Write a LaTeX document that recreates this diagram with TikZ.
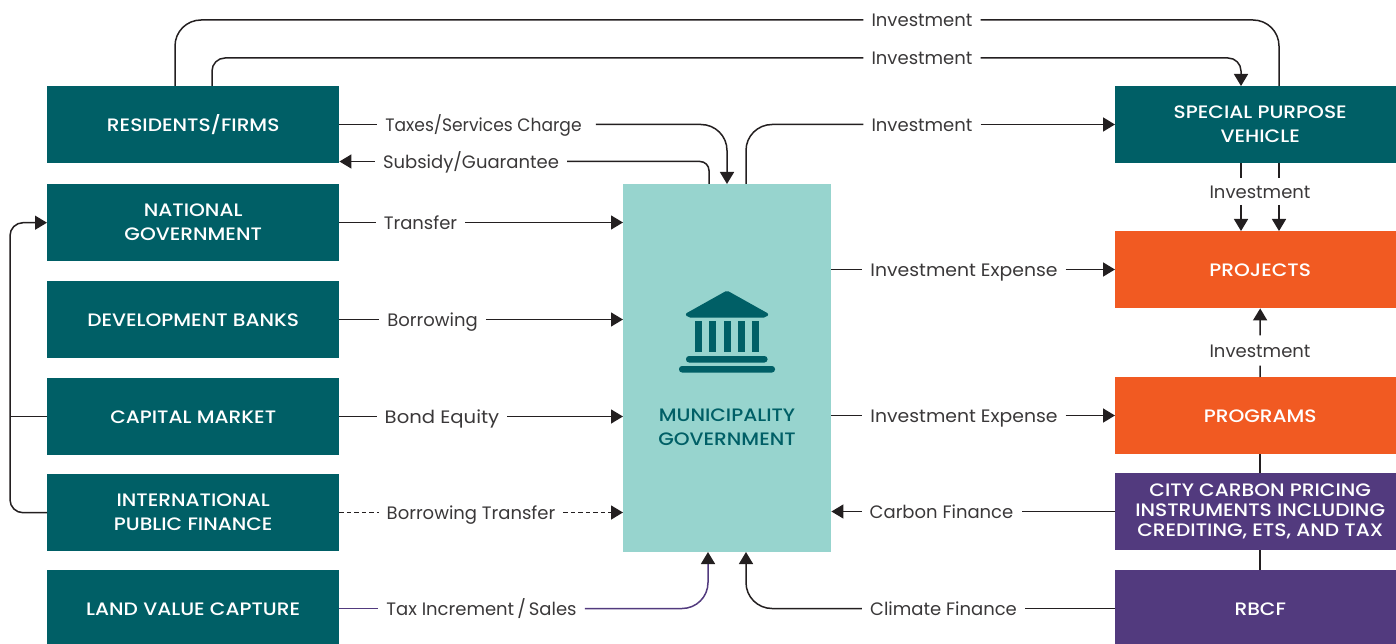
\documentclass[tikz,border=0pt]{standalone}
\usepackage{fontspec}
\setmainfont{Poppins}
\newfontfamily\boxfont[FakeStretch=1.12]{Poppins Medium}
\newfontfamily\labwide[FakeStretch=1.045]{Poppins}
\newfontfamily\labwider[FakeStretch=1.09]{Poppins}
\newfontfamily\labnarrow[FakeStretch=0.95]{Poppins}
\usetikzlibrary{arrows.meta,calc}
\definecolor{teal}{HTML}{005F66}
\definecolor{mint}{HTML}{97D4CE}
\definecolor{orng}{HTML}{F15A22}
\definecolor{purp}{HTML}{523A7E}
\definecolor{ink}{HTML}{231F20}
\definecolor{lbl}{HTML}{3A3839}
\tikzset{
  x=1pt,y=-1pt,
  box/.style={inner sep=0pt,text=white,align=center,font=\boxfont\fontsize{18}{24}\selectfont,anchor=north west,execute at begin node=\rule{0pt}{14pt}},
  tealbox/.style={box,fill=teal,minimum width=292pt,minimum height=77pt},
  rbox/.style={box,minimum width=290pt,minimum height=77pt},
  lab/.style={inner xsep=8pt,inner ysep=0pt,text=lbl,font=\fontsize{18}{20}\selectfont,text height=16pt,text depth=2pt},
  conn/.style={draw=ink,line width=1.5pt},
  tip/.style={-{Triangle[length=12pt,width=14pt,fill=ink,color=ink]}},
  r8/.style={rounded corners=9pt},
  r12/.style={rounded corners=13pt},
  r25/.style={rounded corners=26pt},
  icon/.style={fill=teal,draw=none}
}
\begin{document}
\begin{tikzpicture}
\useasboundingbox (0,0) rectangle (1396,644);
\clip (0,0) rectangle (1396,644);
% boxes
\node[tealbox] (res) at (47,86) {RESIDENTS/FIRMS};
\node[tealbox] (nat) at (47,184) {NATIONAL\\GOVERNMENT};
\node[tealbox] (dev) at (47,281) {DEVELOPMENT BANKS};
\node[tealbox] (cap) at (47,378) {CAPITAL MARKET};
\node[tealbox] (int) at (47,474) {INTERNATIONAL\\PUBLIC FINANCE};
\node[tealbox] (land) at (47,570) {LAND VALUE CAPTURE};
\node[rbox,fill=teal] (spv) at (1115,86) {SPECIAL PURPOSE\\VEHICLE};
\node[rbox,fill=orng] (proj) at (1115,231) {PROJECTS};
\node[rbox,fill=orng] (prog) at (1115,377) {PROGRAMS};
\node[rbox,fill=purp,font=\boxfont\fontsize{18}{20}\selectfont,execute at begin node=\rule{0pt}{19pt}] (carb) at (1115,473) {CITY CARBON PRICING\\INSTRUMENTS INCLUDING\\CREDITING, ETS, AND TAX};
\node[rbox,fill=purp] (rbcf) at (1115,570) {RBCF};
\node[box,fill=mint,minimum width=208pt,minimum height=368pt] (muni) at (623,184) {};
\node[text=teal,align=center,font=\boxfont\fontsize{18}{24}\selectfont,inner sep=0pt] (munit) at (727,427) {MUNICIPALITY\\GOVERNMENT};
% icon
\fill[icon,rounded corners=2pt] (727,290.5) -- (769,314) -- (766,317.5) -- (688,317.5) -- (685,314) -- cycle;
\foreach \c in {695,709,724,738,752}{\fill[icon] (\c,321) rectangle (\c+7,352);}
\fill[icon,rounded corners=3pt] (686,356) rectangle (767.5,362.5);
\fill[icon,rounded corners=3pt] (679,366) rectangle (775,372.5);
% labels
\node[lab] (l1) at (922,20) {Investment};
\node[lab] (l2) at (922,58) {Investment};
\node[lab] (l3) at (922,124.5) {Investment};
\node[lab,font=\labnarrow\fontsize{18}{20}\selectfont] (ltax) at (483.5,124.5) {Taxes/Services Charge};
\node[lab] (lsub) at (471,161.5) {Subsidy/Guarantee};
\node[lab] (ltr) at (420.5,222.5) {Transfer};
\node[lab] (lbor) at (432.5,319.5) {Borrowing};
\node[lab,font=\labwider\fontsize{18}{20}\selectfont] (lbond) at (442,416.5) {Bond Equity};
\node[lab] (lbt) at (471,512.5) {Borrowing Transfer};
\node[lab] (ltis) at (481.5,608.5) {Tax Increment\,/\,Sales};
\node[lab,font=\labwide\fontsize{18}{20}\selectfont] (lie1) at (964,269.5) {Investment Expense};
\node[lab,font=\labwide\fontsize{18}{20}\selectfont] (lie2) at (964,415.5) {Investment Expense};
\node[lab] (lcf) at (941.5,511.5) {Carbon Finance};
\node[lab] (lclf) at (943.5,608.5) {Climate Finance};
\node[lab,inner xsep=0pt,inner ysep=6pt] (lv1) at (1260,191.5) {Investment};
\node[lab,inner xsep=0pt,inner ysep=6pt] (lv2) at (1260,350.5) {Investment};
% free coordinates
\coordinate (a175) at (175,86); \coordinate (a212) at (212,86);
\coordinate (s1241t) at (1241,86); \coordinate (s1279t) at (1279,86);
\coordinate (s1241b) at (1241,163); \coordinate (s1279b) at (1279,163);
\coordinate (lv1a) at (1241,178); \coordinate (lv1b) at (1279,178);
\coordinate (lv1c) at (1241,205); \coordinate (lv1d) at (1279,205);
\coordinate (p1241) at (1241,231); \coordinate (p1279) at (1279,231);
\coordinate (m709) at (709,184); \coordinate (m727) at (727,184); \coordinate (m746) at (746,184);
\coordinate (b708) at (708,552); \coordinate (b746) at (746,552);
\coordinate (lft) at (10,416.5);
% top
\draw[conn,r25] (a175) |- (l1.west);
\draw[conn,r25] (l1.east) -| (s1279t);
\draw[conn,r12] (a212) |- (l2.west);
\draw[conn,tip,r12] (l2.east) -| (s1241t);
% residents
\draw[conn] (ltax.west -| res.east) -- (ltax.west);
\draw[conn,tip,r25] (ltax.east) ++(6,0) -| (m727);
\draw[conn,tip] (lsub.west) -- (lsub.west -| res.east);
\draw[conn,r8] (m709) |- (lsub.east);
\draw[conn,r25] (m746) |- (l3.west);
\draw[conn,tip] (l3.east) -- (l3.east -| spv.west);
% left to muni
\draw[conn] (ltr.west -| nat.east) -- (ltr.west);
\draw[conn,tip] (ltr.east) -- (ltr.east -| muni.west);
\draw[conn] (lbor.west -| dev.east) -- (lbor.west);
\draw[conn,tip] (lbor.east) -- (lbor.east -| muni.west);
\draw[conn] (lbond.west -| cap.east) -- (lbond.west);
\draw[conn,tip] (lbond.east) -- (lbond.east -| muni.west);
\draw[conn,dash pattern=on 4.5pt off 3pt] (lbt.west -| int.east) -- (lbt.west);
\draw[conn,tip,dash pattern=on 4.5pt off 3pt] (lbt.east) -- (lbt.east -| muni.west);
\draw[draw=purp,line width=1.5pt] (ltis.west -| land.east) -- (ltis.west);
\draw[draw=purp,line width=1.5pt,tip,r25] (ltis.east) -| (b708);
% left loop
\draw[conn] (lft -| cap.west) -- (lft);
\draw[conn,tip,r12] (int.west) -| (10,350) |- (nat.west);
% right
\draw[conn] (lie1.west -| muni.east) -- (lie1.west);
\draw[conn,tip] (lie1.east) -- (lie1.east -| proj.west);
\draw[conn] (lie2.west -| muni.east) -- (lie2.west);
\draw[conn,tip] (lie2.east) -- (lie2.east -| prog.west);
\draw[conn,tip] (lcf.west) -- (lcf.west -| muni.east);
\draw[conn] (lcf.east -| carb.west) -- (lcf.east);
\draw[conn] (lclf.east -| rbcf.west) -- (lclf.east);
\draw[conn,tip,r25] (lclf.west) -| (b746);
% vertical right
\draw[conn] (s1241b) -- (lv1a);
\draw[conn] (s1279b) -- (lv1b);
\draw[conn,tip] (lv1c) -- (p1241);
\draw[conn,tip] (lv1d) -- (p1279);
\draw[conn] (prog.north) -- (lv2.south);
\draw[conn,tip] (lv2.north) -- (proj.south);
\draw[conn] (rbcf.north) -- (carb.south);
\draw[conn] (carb.north) -- (prog.south);
\end{tikzpicture}
\end{document}
